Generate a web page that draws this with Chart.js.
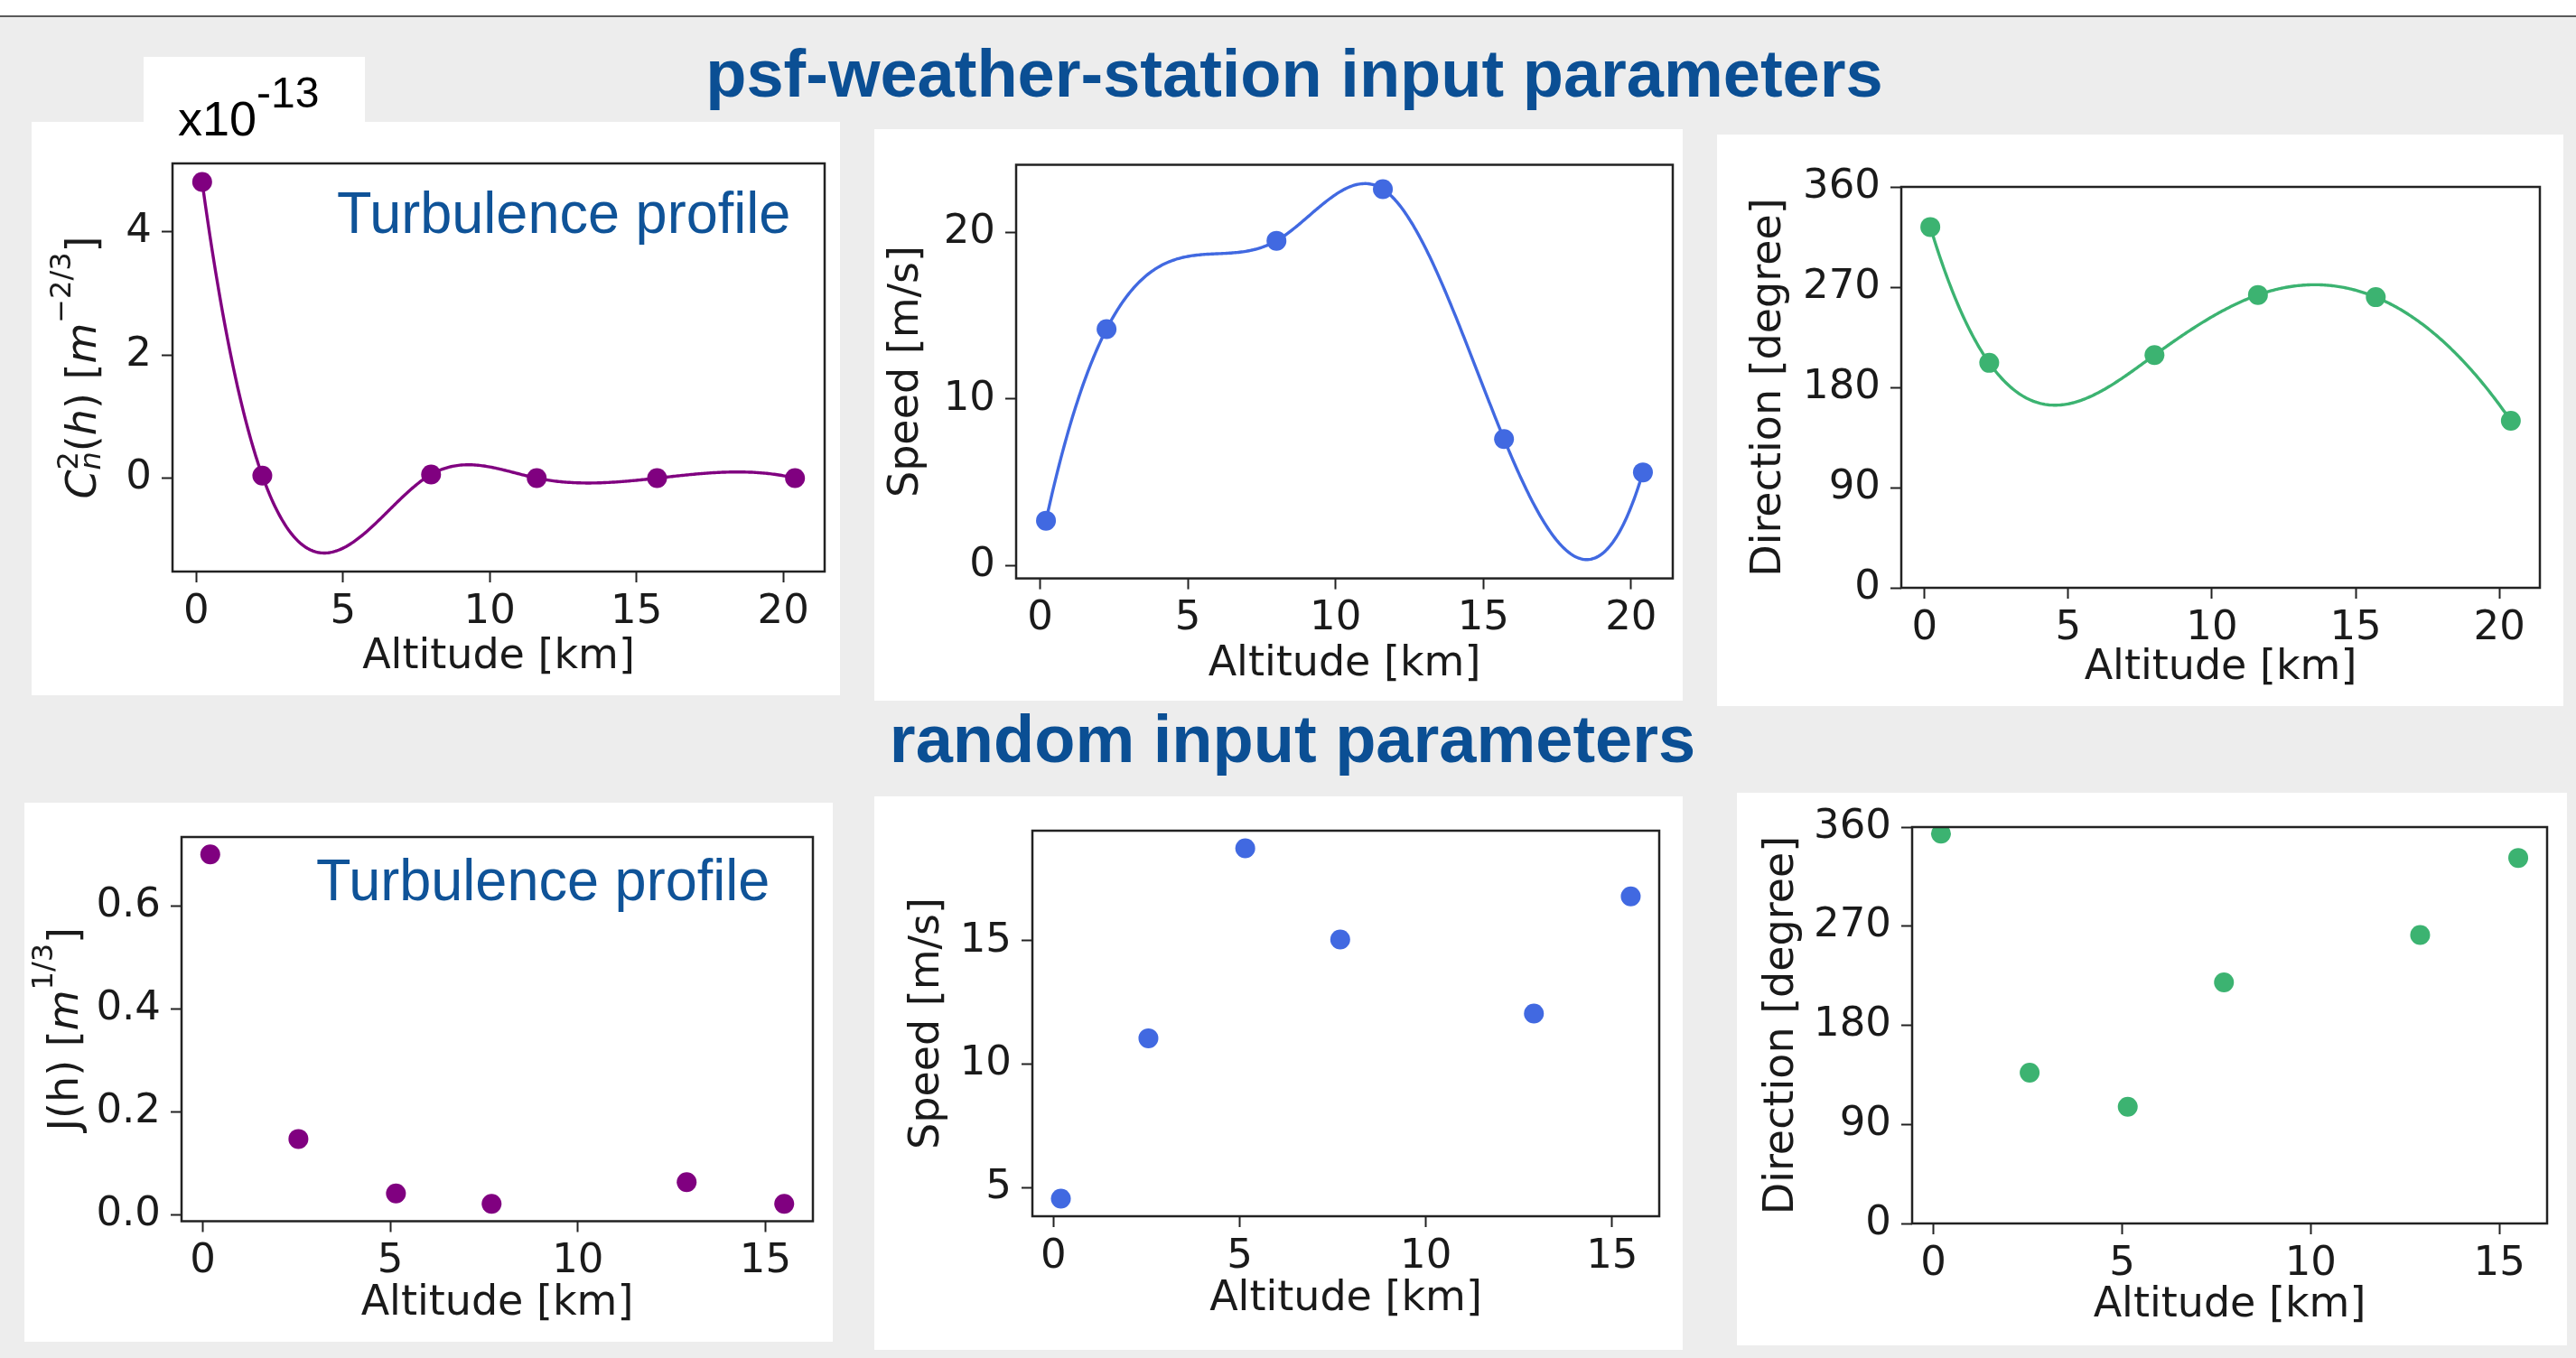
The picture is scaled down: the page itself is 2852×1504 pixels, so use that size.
<!DOCTYPE html>
<html>
<head>
<meta charset="utf-8">
<script src="https://cdn.jsdelivr.net/npm/chart.js@4.4.1/dist/chart.umd.min.js"></script>
<style>
  html, body { margin: 0; padding: 0; }
  body { width: 2852px; height: 1504px; background: #ededed; position: relative; overflow: hidden;
         font-family: "Liberation Sans", Arial, sans-serif; }
  .topbar { position: absolute; left: 0; top: 0; width: 2852px; height: 17px; background: #fff; border-bottom: 2px solid #5a5a5a; }
  .heading { position: absolute; left: 7px; width: 2852px; text-align: center; font-weight: bold; font-size: 74px;
             line-height: 1; color: #0b4f94; white-space: nowrap; }
  .panel { position: absolute; background: #fff; }
  .panel canvas { position: absolute; left: 0; top: 0; }
  .note { position: absolute; font-size: 65px; line-height: 1; color: #0f5398; white-space: nowrap;
          transform: scaleX(0.97); transform-origin: left top; }
  .tab { position: absolute; left: 159px; top: 63px; width: 245px; height: 72px; background: #fff; }
  .expo { position: absolute; left: 197px; top: 104px; font-size: 54px; line-height: 1; color: #000; white-space: nowrap; }
  .expo span { position: relative; top: -31px; font-size: 48px; }
</style>
</head>
<body>
<div class="topbar"></div>
<div class="heading" style="top:45px">psf-weather-station input parameters</div>
<div class="heading" style="top:782px; left:5px">random input parameters</div>

<div class="tab"></div>
<div class="panel" style="left:35px; top:135px; width:895px; height:635px"><canvas id="c1" width="895" height="635"></canvas></div>
<div class="panel" style="left:968px; top:143px; width:895px; height:633px"><canvas id="c2" width="895" height="633"></canvas></div>
<div class="panel" style="left:1901px; top:149px; width:937px; height:633px"><canvas id="c3" width="937" height="633"></canvas></div>
<div class="panel" style="left:27px; top:889px; width:895px; height:597px"><canvas id="c4" width="895" height="597"></canvas></div>
<div class="panel" style="left:968px; top:882px; width:895px; height:613px"><canvas id="c5" width="895" height="613"></canvas></div>
<div class="panel" style="left:1923px; top:878px; width:919px; height:612px"><canvas id="c6" width="919" height="612"></canvas></div>

<div class="expo">x10<span>-13</span></div>
<div class="note" style="left:373px; top:203px">Turbulence profile</div>
<div class="note" style="left:350px; top:942px">Turbulence profile</div>

<script>
// weather-station profile (altitude in km)
const stationAltitude = [0.2, 2.25, 8.0, 11.6, 15.7, 20.4];
const stationCn2 = [4.81, 0.04, 0.06, 0.0, 0.0, 0.0];          // x1e-13 m^-2/3
const stationSpeed = [2.7, 14.2, 19.5, 22.6, 7.6, 5.6];         // m/s
const stationDirection = [324, 202, 209, 263, 261, 150];        // degree

// randomly drawn inputs
const randomAltitude = [0.2, 2.55, 5.15, 7.7, 12.9, 15.5];
const randomJ = [0.70, 0.147, 0.041, 0.021, 0.063, 0.021];      // m^1/3
const randomSpeed = [4.55, 11.05, 18.75, 15.05, 12.05, 16.8];
const randomDirection = [354, 137, 106, 219, 262, 332];

// tick positions
const stationAltTicks = [0, 5, 10, 15, 20];
const randomAltTicks = [0, 5, 10, 15];
const cn2Ticks = [0, 2, 4];
const stationSpeedTicks = [0, 10, 20];
const directionTicks = [0, 90, 180, 270, 360];
const jTicks = [0, 0.2, 0.4, 0.6];
const randomSpeedTicks = [5, 10, 15];

const PURPLE = '#800080', BLUE = '#4169e1', GREEN = '#3cb371';
const INK = '#1a1a1a';
const FONT = 'DejaVu Sans';

function solveLinear(A, b) {
  const n = b.length;
  const M = A.map((row, i) => [...row, b[i]]);
  for (let c = 0; c < n; c++) {
    let p = c;
    for (let r = c + 1; r < n; r++) if (Math.abs(M[r][c]) > Math.abs(M[p][c])) p = r;
    [M[c], M[p]] = [M[p], M[c]];
    for (let r = c + 1; r < n; r++) {
      const f = M[r][c] / M[c][c];
      for (let k = c; k <= n; k++) M[r][k] -= f * M[c][k];
    }
  }
  const x = new Array(n).fill(0);
  for (let r = n - 1; r >= 0; r--) {
    let s = M[r][n];
    for (let k = r + 1; k < n; k++) s -= M[r][k] * x[k];
    x[r] = s / M[r][r];
  }
  return x;
}

// not-a-knot cubic spline through the points
function cubicSpline(xs, ys) {
  const n = xs.length;
  const h = xs.slice(1).map((x, i) => x - xs[i]);
  const A = xs.map(() => new Array(n).fill(0));
  const b = new Array(n).fill(0);
  A[0][0] = h[1]; A[0][1] = -(h[0] + h[1]); A[0][2] = h[0];
  for (let i = 1; i < n - 1; i++) {
    A[i][i - 1] = h[i - 1]; A[i][i] = 2 * (h[i - 1] + h[i]); A[i][i + 1] = h[i];
    b[i] = 6 * ((ys[i + 1] - ys[i]) / h[i] - (ys[i] - ys[i - 1]) / h[i - 1]);
  }
  A[n - 1][n - 3] = h[n - 2]; A[n - 1][n - 2] = -(h[n - 3] + h[n - 2]); A[n - 1][n - 1] = h[n - 3];
  const m = solveLinear(A, b);
  return v => {
    let i = 0;
    while (i < n - 2 && v > xs[i + 1]) i++;
    const t = v - xs[i], hi = h[i];
    const slope = (ys[i + 1] - ys[i]) / hi - hi * (2 * m[i] + m[i + 1]) / 6;
    return ys[i] + slope * t + m[i] / 2 * t * t + (m[i + 1] - m[i]) / (6 * hi) * t * t * t;
  };
}

function curveSamples(xs, ys, steps = 400) {
  const f = cubicSpline(xs, ys);
  const a = xs[0], z = xs[xs.length - 1];
  const out = [];
  for (let k = 0; k <= steps; k++) {
    const v = a + (z - a) * k / steps;
    out.push([v, f(v)]);
  }
  return out;
}

// matplotlib-style 5% margins
function withMargin(values) {
  const lo = Math.min(...values), hi = Math.max(...values), d = (hi - lo) * 0.05;
  return [lo - d, hi + d];
}

const splinePlugin = {
  id: 'splineCurve',
  beforeDatasetsDraw(chart) {
    const ds = chart.data.datasets[0];
    if (!ds.spline) return;
    const { ctx, chartArea: a, scales: { x, y } } = chart;
    const pts = curveSamples(ds.data.map(p => p.x), ds.data.map(p => p.y));
    ctx.save();
    ctx.beginPath();
    ctx.rect(a.left, a.top, a.right - a.left, a.bottom - a.top);
    ctx.clip();
    ctx.beginPath();
    pts.forEach(([v, w], k) => {
      const px = x.getPixelForValue(v), py = y.getPixelForValue(w);
      if (k) ctx.lineTo(px, py); else ctx.moveTo(px, py);
    });
    ctx.strokeStyle = ds.borderColor;
    ctx.lineWidth = 3.4;
    ctx.lineJoin = 'round';
    ctx.stroke();
    ctx.restore();
  }
};

const framePlugin = {
  id: 'axesFrame',
  afterDraw(chart) {
    const { ctx, chartArea: a } = chart;
    ctx.save();
    ctx.strokeStyle = '#222';
    ctx.lineWidth = 2.5;
    ctx.strokeRect(a.left, a.top, a.right - a.left, a.bottom - a.top);
    ctx.restore();
  }
};

// vertical axis label with sub/superscripts, read bottom to top
function mathLabel(runs, baselineX, size = 46) {
  return {
    id: 'mathLabel',
    afterDraw(chart) {
      const { ctx, chartArea: a } = chart;
      const fontOf = r => `${r.it ? 'italic ' : ''}${Math.round(size * (r.s || 1))}px "${FONT}"`;
      ctx.save();
      let total = 0;
      runs.forEach(r => { ctx.font = fontOf(r); if (!r.keep) total += ctx.measureText(r.t).width; });
      ctx.translate(baselineX, (a.top + a.bottom) / 2);
      ctx.rotate(-Math.PI / 2);
      ctx.fillStyle = INK;
      ctx.textBaseline = 'alphabetic';
      ctx.textAlign = 'left';
      let u = -total / 2;
      runs.forEach(r => {
        ctx.font = fontOf(r);
        ctx.fillText(r.t, u, (r.dy || 0) * size);
        if (!r.keep) u += ctx.measureText(r.t).width;
      });
      ctx.restore();
    }
  };
}

function tickAxis(o) {
  return {
    type: 'linear',
    min: o.range[0],
    max: o.range[1],
    afterBuildTicks: s => { s.ticks = o.ticks.map(v => ({ value: v })); },
    afterFit: s => { if (o.width !== undefined) s.width = o.width; if (o.height !== undefined) s.height = o.height; },
    grid: { drawOnChartArea: false, drawTicks: true, tickLength: 12, tickWidth: 2, tickColor: '#222' },
    border: { display: false },
    ticks: {
      autoSkip: false, maxRotation: 0, padding: o.tickPad, color: INK,
      font: { family: FONT, size: 45 },
      callback: o.format || (v => String(v))
    },
    title: o.title ? {
      display: true, text: o.title, color: INK,
      font: { family: FONT, size: 46, lineHeight: 1 },
      padding: o.titlePad
    } : { display: false }
  };
}

function panelChart(cfg) {
  const el = document.getElementById(cfg.id);
  const [bl, bt] = cfg.box;
  const [pl, pt, pr, pb] = cfg.plot;
  const xs = cfg.x, ys = cfg.y;
  const xRange = withMargin(xs);
  let yRange = cfg.yRange;
  if (!yRange) {
    const yv = cfg.spline ? curveSamples(xs, ys).map(p => p[1]) : ys;
    yRange = withMargin(yv);
  }
  const extra = cfg.yRuns ? [mathLabel(cfg.yRuns, cfg.yTitleX)] : [];
  return new Chart(el, {
    type: 'scatter',
    data: {
      datasets: [{
        data: xs.map((x, i) => ({ x, y: ys[i] })),
        backgroundColor: cfg.color, borderColor: cfg.color,
        pointRadius: 11, pointHoverRadius: 11, pointBorderWidth: 0,
        spline: !!cfg.spline
      }]
    },
    options: {
      responsive: false, animation: false, events: [],
      layout: { padding: { left: 0, top: pt - bt, right: el.width - (pr - bl), bottom: 0 } },
      plugins: { legend: { display: false }, tooltip: { enabled: false } },
      scales: {
        x: tickAxis({ range: xRange, ticks: cfg.xTicks, height: el.height - (pb - bt), tickPad: 6,
                      title: 'Altitude [km]', titlePad: { top: 0, bottom: cfg.xTitlePad } }),
        y: tickAxis({ range: yRange, ticks: cfg.yTicks, width: pl - bl, tickPad: 11, format: cfg.yFormat,
                      title: cfg.yTitle, titlePad: { top: cfg.yTitlePad, bottom: 0 } })
      }
    },
    plugins: [splinePlugin, framePlugin, ...extra]
  });
}

panelChart({
  id: 'c1', box: [35, 135], plot: [191, 181, 913, 633],
  x: stationAltitude, y: stationCn2, color: PURPLE, spline: true,
  xTicks: stationAltTicks, yTicks: cn2Ticks, xTitlePad: 19,
  yRuns: [
    { t: 'C', it: 1 }, { t: '2', s: 0.7, dy: -0.44, keep: 1 }, { t: 'n', it: 1, s: 0.7, dy: 0.1 },
    { t: '(' }, { t: 'h', it: 1 }, { t: ')' }, { t: ' [' }, { t: 'm', it: 1 },
    { t: '\u22122/3', s: 0.7, dy: -0.6 }, { t: ']' }
  ],
  yTitleX: 71
});

panelChart({
  id: 'c2', box: [968, 143], plot: [1125, 182.5, 1859, 640.6],
  x: stationAltitude, y: stationSpeed, color: BLUE, spline: true,
  xTicks: stationAltTicks, yTicks: stationSpeedTicks, xTitlePad: 17,
  yTitle: 'Speed [m/s]', yTitlePad: 13
});

panelChart({
  id: 'c3', box: [1901, 149], plot: [2105, 207, 2812, 651],
  x: stationAltitude, y: stationDirection, color: GREEN, spline: true, yRange: [0, 360],
  xTicks: stationAltTicks, yTicks: directionTicks, xTitlePad: 19,
  yTitle: 'Direction [degree]', yTitlePad: 35
});

panelChart({
  id: 'c4', box: [27, 889], plot: [201, 915, 900, 1352.5],
  x: randomAltitude, y: randomJ, color: PURPLE,
  xTicks: randomAltTicks, yTicks: jTicks, xTitlePad: 19, yFormat: v => v.toFixed(1),
  yRuns: [
    { t: 'J(h) [' }, { t: 'm', it: 1 }, { t: '1/3', s: 0.7, dy: -0.6 }, { t: ']' }
  ],
  yTitleX: 59
});

panelChart({
  id: 'c5', box: [968, 882], plot: [1143, 912.5, 1837, 1347],
  x: randomAltitude, y: randomSpeed, color: BLUE,
  xTicks: randomAltTicks, yTicks: randomSpeedTicks, xTitlePad: 33,
  yTitle: 'Speed [m/s]', yTitlePad: 36
});

panelChart({
  id: 'c6', box: [1923, 878], plot: [2117, 915, 2820, 1355],
  x: randomAltitude, y: randomDirection, color: GREEN, yRange: [0, 360],
  xTicks: randomAltTicks, yTicks: directionTicks, xTitlePad: 21,
  yTitle: 'Direction [degree]', yTitlePad: 27
});
</script>
</body>
</html>
